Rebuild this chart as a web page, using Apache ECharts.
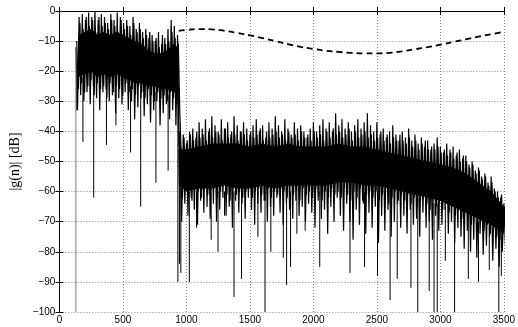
<!DOCTYPE html>
<html>
<head>
<meta charset="utf-8">
<script src="https://cdn.jsdelivr.net/npm/echarts@6/dist/echarts.min.js"></script>
<style>
  html, body { margin: 0; padding: 0; background: #fff; }
  #chart { width: 518px; height: 327px; }
</style>
</head>
<body>
<div id="chart"></div>
<script>
// solid core of the noisy |g(n)| band
const coreX   = [150, 200, 250, 300, 350, 400, 450, 500, 550, 600, 650, 700, 750, 800, 850, 900, 930,
                 940, 1000, 1100, 1200, 1300, 1400, 1500, 1600, 1700, 1800, 1900, 2000, 2100, 2200, 2300,
                 2400, 2500, 2600, 2700, 2800, 2900, 3000, 3100, 3200, 3300, 3400, 3500];
const coreTop = [-8, -7, -6, -8, -7, -8, -7, -8, -9, -10, -11, -13, -14, -14, -13, -11, -12,
                 -46, -46, -45, -44, -44, -44, -45, -44, -45, -44, -45, -45, -45, -44, -45,
                 -45, -46, -47, -48, -49, -50, -51, -52, -54, -57, -60, -65];
const coreBot = [-22, -21, -20, -22, -21, -22, -21, -22, -23, -24, -24, -25, -25, -26, -26, -27, -27,
                 -58, -60, -59, -59, -58, -59, -59, -58, -59, -58, -58, -58, -58, -57, -57,
                 -58, -58, -59, -60, -61, -62, -63, -65, -67, -69, -71, -74];

// outer fringe of the noise (peaks / dips), every 25 samples
const fringeStep = 25;
const seg1Start = 130;
const seg1Hi = [-12, -2, -1, -3, -0.5, -2, 0, -3, -1, -2, -4, -1, -3, -0.5, -2, -4, -3, -5, -2, -6,
                -4, -7, -6, -9, -8, -10, -7, -11, -9, -6, -3, -5, -8];
const seg1Lo = [-33, -28, -30, -27, -31, -25, -29, -33, -27, -26, -30, -28, -34, -29, -31, -27, -33, -30, -36, -32,
                -29, -35, -31, -37, -33, -30, -38, -34, -31, -36, -33, -38, -45];
// inner fringe, in between the outer samples
const seg1HiB = [-10, -4, -6, -2, -5, -3, -7, -2, -5, -4, -6, -3, -5, -7, -3, -6, -5, -8, -4, -7,
                 -6, -9, -8, -7, -10, -9, -12, -8, -11, -10, -7, -9, -11];
const seg1LoB = [-26, -24, -27, -25, -23, -28, -24, -26, -25, -29, -24, -27, -25, -26, -28, -24, -27, -26, -28, -25,
                 -27, -29, -26, -28, -30, -27, -29, -28, -30, -27, -29, -31, -35];

const seg2Start = 950;
const seg2Hi = [-43, -41, -44, -40, -39, -42, -37, -39, -36, -40,
                -35, -38, -40, -36, -39, -37, -41, -35, -38, -40,
                -37, -39, -41, -38, -36, -40, -38, -42, -37, -39,
                -35, -38, -40, -36, -39, -41, -37, -39, -38, -40,
                -42, -39, -37, -40, -38, -36, -39, -37, -40, -34,
                -38, -36, -39, -37, -40, -38, -36, -39, -37, -34,
                -38, -40, -37, -41, -39, -42, -40, -38, -41, -43,
                -40, -42, -39, -43, -41, -44, -42, -45, -43, -46,
                -44, -42, -45, -47, -44, -46, -45, -48, -46, -49,
                -48, -51, -50, -53, -52, -55, -54, -57, -55, -59,
                -60, -62, -64];
const seg2Lo = [-70, -64, -68, -62, -66, -71, -63, -67, -65, -69,
                -64, -70, -66, -62, -68, -65, -72, -63, -67, -64,
                -69, -62, -66, -71, -64, -67, -63, -70, -65, -68,
                -62, -67, -71, -64, -66, -69, -63, -68, -65, -70,
                -64, -67, -72, -63, -69, -66, -74, -65, -70, -62,
                -68, -73, -64, -70, -76, -66, -71, -63, -74, -67,
                -72, -65, -77, -68, -73, -66, -75, -70, -64, -72,
                -68, -74, -66, -71, -69, -75, -67, -72, -70, -76,
                -68, -73, -71, -66, -74, -70, -77, -72, -75, -79,
                -73, -80, -76, -82, -74, -81, -78, -75, -83, -79,
                -85, -80, -78];
const seg2HiB = [-44, -42, -43, -41, -43, -40, -42, -41, -43, -39,
                 -42, -40, -41, -43, -39, -42, -40, -41, -43, -40,
                 -41, -43, -40, -42, -41, -39, -43, -40, -42, -41,
                 -40, -42, -41, -43, -40, -42, -41, -43, -40, -42,
                 -41, -43, -40, -42, -41, -43, -40, -42, -39, -41,
                 -40, -42, -41, -39, -43, -40, -42, -41, -40, -42,
                 -41, -43, -42, -40, -43, -41, -44, -42, -43, -41,
                 -43, -44, -42, -45, -43, -46, -44, -43, -46, -45,
                 -46, -45, -47, -46, -48, -47, -49, -47, -50, -48,
                 -50, -52, -51, -54, -53, -56, -55, -58, -57, -60,
                 -62, -61, -65];
const seg2LoB = [-62, -59, -61, -63, -58, -60, -62, -59, -61, -60,
                 -59, -62, -60, -58, -61, -63, -59, -61, -60, -62,
                 -60, -58, -62, -60, -59, -61, -63, -59, -62, -60,
                 -61, -59, -60, -62, -58, -61, -60, -63, -59, -61,
                 -60, -62, -59, -61, -63, -60, -62, -59, -61, -60,
                 -62, -59, -61, -63, -60, -62, -59, -64, -61, -60,
                 -62, -60, -63, -61, -59, -64, -62, -60, -63, -61,
                 -63, -61, -64, -62, -65, -63, -61, -64, -66, -63,
                 -65, -63, -66, -64, -67, -65, -68, -66, -69, -67,
                 -69, -71, -68, -72, -70, -73, -71, -74, -72, -75,
                 -76, -74, -77];

// deep single-sample dips: [n, from dB, to dB]
const spikes = [
  [136, -20, -33], [185, -22, -43.5], [270, -25, -62], [370, -25, -44.5], [445, -25, -38],
  [560, -25, -47], [640, -26, -65], [760, -27, -57], [856, -28, -53],
  [933, -10, -90], [945, -40, -84], [956, -45, -87], [1023, -60, -90], [1080, -60, -72],
  [1195, -60, -76], [1249, -60, -80], [1300, -60, -68], [1375, -60, -95], [1434, -60, -89],
  [1563, -60, -75], [1619, -60, -100], [1665, -60, -80], [1763, -60, -82], [1789, -60, -91],
  [1820, -60, -85], [1870, -60, -74], [1935, -60, -73], [2050, -60, -85], [2288, -60, -87],
  [2403, -60, -85], [2505, -60, -88], [2604, -60, -96], [2660, -60, -89], [2768, -62, -92],
  [2822, -62, -100], [2912, -64, -93], [2950, -64, -100], [2975, -64, -100], [3039, -65, -83],
  [3112, -66, -100], [3220, -68, -89], [3300, -70, -90], [3385, -72, -86], [3460, -75, -100],
  [3480, -75, -88]
];
// first sample, drawn from the bottom of the axis
const firstSample = [[130, -12, -100]];

// dashed reference curve
const refX = [940, 1000, 1100, 1200, 1300, 1400, 1500, 1600, 1700, 1800, 1900, 2000, 2100, 2200,
              2300, 2400, 2500, 2600, 2700, 2800, 2900, 3000, 3100, 3200, 3300, 3400, 3500];
const refY = [-6.6, -6.3, -6.0, -6.1, -6.6, -7.3, -8.1, -9.0, -10.0, -11.0, -11.9, -12.6, -13.2, -13.6,
              -13.9, -14.1, -14.1, -13.9, -13.4, -12.7, -12.0, -11.2, -10.3, -9.4, -8.5, -7.7, -6.9];

// peaks at x + a, dips at x + b
function zigzag(start, hi, lo, a, b) {
    const out = [];
    hi.forEach((h, i) => {
        const x = start + i * fringeStep;
        out.push([x + a, h]);
        out.push([x + b, lo[i]]);
    });
    return out;
}

const chart = echarts.init(document.getElementById('chart'), null, { renderer: 'canvas' });

const labelFont = { fontFamily: 'Liberation Sans', fontSize: 10, color: '#000' };
const plain = v => String(v).replace('-', '\u2212');

function vLines(color) {
    return function (params, api) {
        const p0 = api.coord([api.value(0), api.value(1)]);
        const p1 = api.coord([api.value(0), api.value(2)]);
        return {
            type: 'line',
            shape: { x1: p0[0], y1: p0[1], x2: p1[0], y2: p1[1] },
            style: { stroke: color, lineWidth: 1 }
        };
    };
}

const half = fringeStep / 2, quarter = fringeStep / 4;

chart.setOption({
    animation: false,
    backgroundColor: '#fff',
    grid: { left: 54, right: 10, top: 11, bottom: 15 },
    xAxis: [{
        type: 'value', min: 0, max: 3500, interval: 500,
        axisLine: { lineStyle: { color: '#000', width: 1 } },
        axisTick: { inside: true, length: 4, lineStyle: { color: '#000' } },
        axisLabel: Object.assign({ margin: 3, formatter: plain }, labelFont),
        splitLine: { show: true, lineStyle: { color: '#888', type: [1, 2], width: 1 } }
    }, {
        type: 'value', min: 0, max: 3500, interval: 500, position: 'top',
        axisLine: { lineStyle: { color: '#000', width: 1 } },
        axisTick: { inside: true, length: 4, lineStyle: { color: '#000' } },
        axisLabel: { show: false },
        splitLine: { show: false }
    }],
    yAxis: [{
        type: 'value', min: -100, max: 0, interval: 10,
        name: '|g(n)| [dB]', nameLocation: 'middle', nameGap: 32,
        nameTextStyle: { fontFamily: 'Liberation Serif', fontSize: 14, color: '#000' },
        axisLine: { lineStyle: { color: '#000', width: 1 } },
        axisTick: { inside: true, length: 4, lineStyle: { color: '#000' } },
        axisLabel: Object.assign({ margin: 4, formatter: plain }, labelFont),
        splitLine: { show: true, lineStyle: { color: '#888', type: [1, 2], width: 1 } }
    }, {
        type: 'value', min: -100, max: 0, interval: 10, position: 'right',
        axisLine: { show: true, lineStyle: { color: '#000', width: 1 } },
        axisTick: { show: true, inside: true, length: 4, lineStyle: { color: '#000' } },
        axisLabel: { show: false },
        splitLine: { show: false }
    }],
    series: [
        {
            type: 'custom', z: 2,
            data: [[0, 0]],
            renderItem: function (params, api) {
                const top = coreX.map((x, i) => api.coord([x, coreTop[i]]));
                const bot = coreX.map((x, i) => api.coord([x, coreBot[i]])).reverse();
                return { type: 'polygon', shape: { points: top.concat(bot) }, style: { fill: '#000' } };
            }
        },
        {
            type: 'line', z: 3,
            data: zigzag(seg1Start, seg1Hi, seg1Lo, 0, half).concat(zigzag(seg2Start, seg2Hi, seg2Lo, 0, half)),
            showSymbol: false, sampling: null,
            lineStyle: { color: '#000', width: 1.2 }
        },
        {
            type: 'line', z: 3,
            data: zigzag(seg1Start, seg1HiB, seg1LoB, quarter, 3 * quarter).concat(zigzag(seg2Start, seg2HiB, seg2LoB, quarter, 3 * quarter)),
            showSymbol: false, sampling: null,
            lineStyle: { color: '#000', width: 1.2 }
        },
        {
            type: 'custom', z: 4,
            data: spikes,
            encode: { x: 0, y: [1, 2] },
            renderItem: vLines('#000')
        },
        {
            type: 'custom', z: 4,
            data: firstSample,
            encode: { x: 0, y: [1, 2] },
            renderItem: vLines('#777')
        },
        {
            type: 'line', z: 5,
            data: refX.map((x, i) => [x, refY[i]]),
            smooth: true, showSymbol: false,
            lineStyle: { color: '#000', width: 1.8, type: [6, 4] }
        }
    ]
});
</script>
</body>
</html>
